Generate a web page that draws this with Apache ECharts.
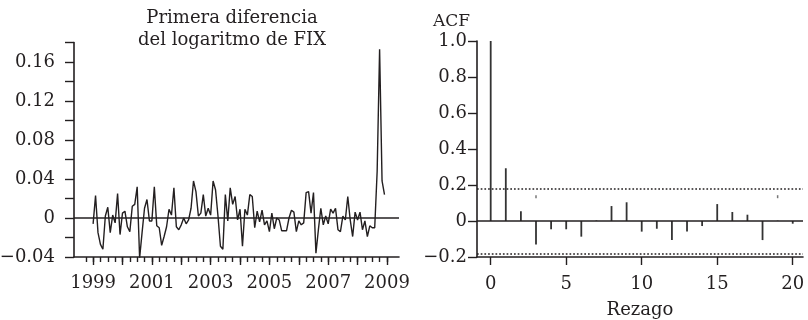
<!DOCTYPE html>
<html>
<head>
<meta charset="utf-8">
<script src="https://cdn.jsdelivr.net/npm/echarts@6/dist/echarts.min.js"></script>
<style>
  html, body { margin: 0; padding: 0; background: #ffffff; }
  #chart { width: 808px; height: 320px; }
</style>
</head>
<body>
<div id="chart"></div>
<script>
// Monthly first difference of log FIX exchange rate, Jan 1999 – Dec 2008
const fixStartYear = 1999;
const fixDiff = [
  -0.006, 0.023, -0.015, -0.027, -0.032, 0.002, 0.011, -0.015, 0.003, -0.005,
  0.025, -0.017, 0.005, 0.007, -0.009, -0.014, 0.012, 0.014, 0.032, -0.041,
  -0.015, 0.010, 0.019, -0.003, -0.003, 0.032, -0.008, -0.010, -0.028, -0.019,
  -0.009, 0.009, 0.003, 0.031, -0.009, -0.012, -0.007, 0.000, -0.006, -0.002,
  0.010, 0.038, 0.027, 0.002, 0.005, 0.024, 0.002, 0.010, 0.003, 0.038,
  0.029, 0.002, -0.029, -0.032, 0.024, -0.003, 0.031, 0.014, 0.022, -0.002,
  0.009, -0.029, 0.009, 0.003, 0.024, 0.022, -0.010, 0.007, -0.004, 0.008,
  -0.007, -0.003, -0.014, 0.005, -0.011, 0.000, -0.002, -0.013, -0.013, -0.013,
  0.000, 0.008, 0.006, -0.014, -0.003, -0.007, -0.005, 0.026, 0.027, 0.005,
  0.026, -0.036, -0.012, 0.010, -0.007, 0.002, -0.006, 0.009, 0.005, 0.010,
  -0.012, -0.014, 0.002, -0.002, 0.022, -0.002, -0.019, 0.006, -0.002, 0.006,
  -0.012, -0.003, -0.019, -0.008, -0.010, -0.010, 0.048, 0.173, 0.038, 0.024
];
const yearLabels = [1999, 2001, 2003, 2005, 2007, 2009];

// Sample autocorrelation by lag
const acfLags = [0, 1, 2, 3, 4, 5, 6, 7, 8, 9, 10, 11, 12, 13, 14, 15, 16, 17, 18, 19, 20];
const acfValues = [
  1.0, 0.293, 0.054, -0.13, -0.046, -0.046, -0.087, 0.003, 0.083, 0.104,
  -0.059, -0.043, -0.106, -0.059, -0.028, 0.094, 0.05, 0.035, -0.106, 0.002, -0.015
];
const acfBand = 0.179;
const acfSpecks = [[3, 0.135], [19, 0.135]];
const lagLabels = [0, 5, 10, 15, 20];

const ink = '#231f20';
const serif = 'DejaVu Serif';

// quarterly minor ticks and yearly major ticks for the time axis
const quarterTicks = [];
for (let q = 1998.75; q <= 2009.001; q += 0.25) quarterTicks.push(Math.round(q * 100) / 100);
const yearTicks = [];
for (let y = 1999; y <= 2009; y++) yearTicks.push(y);

const fmtSigned = (v, digits) => (v < 0 ? '\u2212' : '') + Math.abs(v).toFixed(digits);

const labelFont = { fontFamily: serif, fontSize: 18, color: ink };

const chart = echarts.init(document.getElementById('chart'), null, { renderer: 'canvas' });
chart.setOption({
  animation: false,
  backgroundColor: '#ffffff',
  graphic: [
    {
      type: 'text', x: 232, y: 7,
      style: {
        text: 'Primera diferencia\ndel logaritmo de FIX',
        fontFamily: serif, fontSize: 18, lineHeight: 22, fill: ink,
        align: 'center', verticalAlign: 'top'
      }
    },
    {
      type: 'text', x: 433, y: 13,
      style: {
        text: 'ACF', fontFamily: serif, fontSize: 17, lineHeight: 17, fill: ink,
        align: 'left', verticalAlign: 'top'
      }
    }
  ],
  grid: [
    { left: 74, top: 42.5, width: 325, height: 214.5, containLabel: false, outerBoundsMode: 'none' },
    { left: 477, top: 41, width: 326, height: 216, containLabel: false, outerBoundsMode: 'none' }
  ],
  xAxis: [
    {
      gridIndex: 0, type: 'value', min: 1998.35, max: 2009.41, position: 'bottom',
      axisLine: { onZero: false, lineStyle: { color: ink, width: 1.6 } },
      axisTick: { customValues: quarterTicks, length: 5, lineStyle: { color: ink, width: 1.4 } },
      axisLabel: { customValues: yearLabels, formatter: v => String(Math.round(v)), margin: 17, ...labelFont },
      splitLine: { show: false }
    },
    {
      gridIndex: 0, type: 'value', min: 1998.35, max: 2009.41, position: 'bottom',
      axisLine: { show: false, onZero: false },
      axisTick: { customValues: yearTicks, length: 8, lineStyle: { color: ink, width: 1.4 } },
      axisLabel: { show: false },
      splitLine: { show: false }
    },
    {
      gridIndex: 1, type: 'value', min: -0.907, max: 20.68, position: 'bottom',
      axisLine: { onZero: false, lineStyle: { color: ink, width: 1.6 } },
      axisTick: { customValues: lagLabels, length: 8, lineStyle: { color: ink, width: 1.4 } },
      axisLabel: { customValues: lagLabels, formatter: v => String(Math.round(v)), margin: 18, ...labelFont },
      splitLine: { show: false },
      name: 'Rezago', nameLocation: 'middle', nameGap: 44,
      nameTextStyle: { fontFamily: serif, fontSize: 18, color: ink }
    }
  ],
  yAxis: [
    {
      gridIndex: 0, type: 'value', min: -0.04, max: 0.18, interval: 0.02,
      axisLine: { show: true, onZero: false, lineStyle: { color: ink, width: 1.6 } },
      axisTick: { show: true, length: 9, lineStyle: { color: ink, width: 1.4 } },
      axisLabel: {
        margin: 19, ...labelFont,
        formatter: v => {
          const k = Math.round(v / 0.02);
          if (k % 2 !== 0) return '';
          return k === 0 ? '0' : fmtSigned(v, 2);
        }
      },
      splitLine: { show: false }
    },
    {
      gridIndex: 1, type: 'value', min: -0.2, max: 1.0, interval: 0.2,
      axisLine: { show: true, onZero: false, lineStyle: { color: ink, width: 1.6 } },
      axisTick: { show: true, length: 9, lineStyle: { color: ink, width: 1.4 } },
      axisLabel: {
        margin: 10, ...labelFont,
        formatter: v => (Math.round(v / 0.2) === 0 ? '0' : fmtSigned(v, 1))
      },
      splitLine: { show: false }
    }
  ],
  series: [
    {
      name: 'dlogFIX', type: 'line', xAxisIndex: 0, yAxisIndex: 0,
      data: fixDiff.map((v, i) => [fixStartYear + i / 12, v]),
      showSymbol: false, symbol: 'none',
      lineStyle: { color: ink, width: 1.4 },
      markLine: {
        silent: true, symbol: 'none', label: { show: false },
        lineStyle: { color: ink, width: 1.6, type: 'solid' },
        data: [{ yAxis: 0 }]
      }
    },
    {
      name: 'ACF', type: 'bar', xAxisIndex: 2, yAxisIndex: 1,
      data: acfLags.map((l, i) => [l, acfValues[i]]),
      barWidth: 1.8,
      itemStyle: { color: '#333333' },
      markLine: {
        silent: true, symbol: 'none', label: { show: false },
        data: [
          { yAxis: 0, lineStyle: { color: ink, width: 1.6, type: 'solid' } },
          { yAxis: acfBand, lineStyle: { color: ink, width: 1.7, type: [1.7, 2.0] } },
          { yAxis: -acfBand, lineStyle: { color: ink, width: 1.7, type: [1.7, 2.0] } }
        ]
      }
    },
    {
      name: 'specks', type: 'scatter', xAxisIndex: 2, yAxisIndex: 1,
      data: acfSpecks, symbol: 'rect', symbolSize: [1.5, 3],
      itemStyle: { color: '#555555' }
    }
  ]
});
</script>
</body>
</html>
